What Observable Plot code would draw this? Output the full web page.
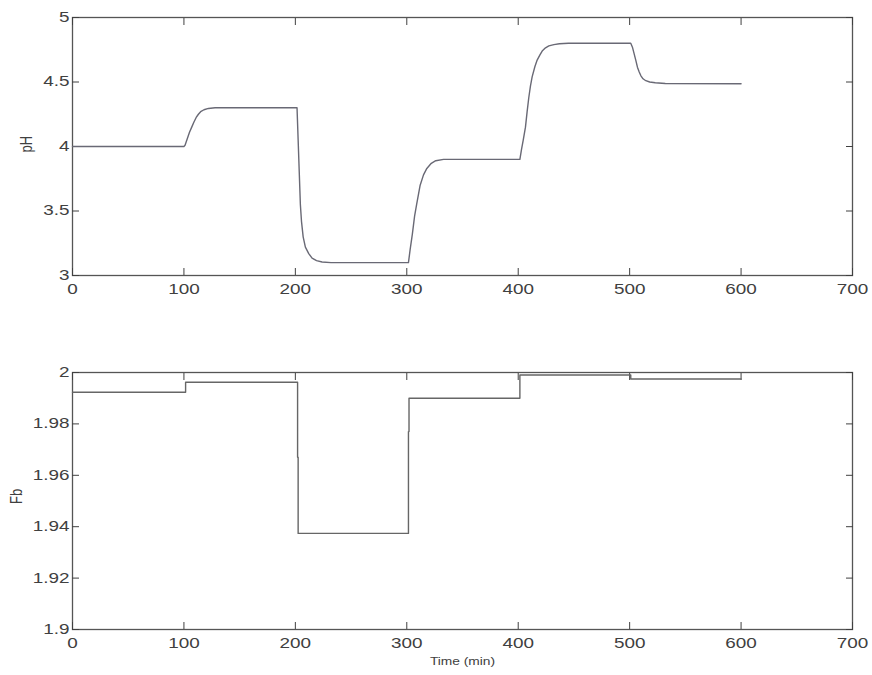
<!DOCTYPE html>
<html>
<head>
<meta charset="utf-8">
<script src="https://cdn.jsdelivr.net/npm/d3@7"></script>
<script src="https://cdn.jsdelivr.net/npm/@observablehq/plot@0.6"></script>
<style>
  body { margin: 0; background: #fff; }
  #chart svg { display: block; }
</style>
</head>
<body>
<div id="chart"></div>
<script>
// pH response to successive set-point changes (time in minutes)
const phTime = [0, 100, 101, 103, 105, 107, 109, 111, 113, 115, 118, 122, 128,
  201.5, 202.5, 203.5, 204.5, 205.5, 207, 209, 212, 215, 219, 224, 232,
  301.5, 303, 305, 307, 309, 312, 315, 318, 322, 326, 333,
  401.5, 403, 404.5, 406.5, 408, 409.5, 411, 412.5, 415, 417, 419.5, 421.5, 424.5, 427.5, 432, 437, 445,
  501, 502.5, 504, 505.5, 507, 508.5, 510, 512, 514.5, 518, 523, 532, 600];
const phValue = [4.0, 4.0, 4.01, 4.06, 4.11, 4.15, 4.19, 4.225, 4.25, 4.27, 4.285, 4.295, 4.3,
  4.3, 4.05, 3.8, 3.55, 3.42, 3.3, 3.22, 3.17, 3.135, 3.115, 3.105, 3.1,
  3.1, 3.2, 3.32, 3.46, 3.56, 3.7, 3.78, 3.83, 3.87, 3.89, 3.9,
  3.9, 3.98, 4.05, 4.15, 4.27, 4.38, 4.47, 4.54, 4.62, 4.67, 4.71, 4.74, 4.765, 4.78, 4.79, 4.797, 4.8,
  4.8, 4.77, 4.72, 4.67, 4.615, 4.58, 4.55, 4.525, 4.51, 4.5, 4.494, 4.488, 4.487];

// Base flow Fb (stepwise controller output)
const fbTime = [0, 101.5, 202, 202.5, 301.5, 302, 401.5, 501, 600];
const fbValue = [1.9923, 1.9962, 1.967, 1.9374, 1.977, 1.990, 1.999, 1.9975, 1.9975];

const timeTicks = [0, 100, 200, 300, 400, 500, 600, 700];
const phTicks = [3, 3.5, 4, 4.5, 5];
const phTickLabels = ["3", "3.5", "4", "4.5", "5"];
const fbTicks = [1.9, 1.92, 1.94, 1.96, 1.98, 2];
const fbTickLabels = ["1.9", "1.92", "1.94", "1.96", "1.98", "2"];

const phRows = phTime.map((t, i) => ({t, v: phValue[i]}));
const fbRows = fbTime.map((t, i) => ({t, v: fbValue[i]}));

const font = "'Liberation Sans', Arial, Helvetica, sans-serif";
const ink = "#404040";
const TICK = -7;

// MATLAB-style box: inward ticks on all four sides, labels left and bottom
function boxAxes(yTicks, yLabels) {
  const none = () => "";
  return [
    Plot.frame({stroke: "#555", strokeWidth: 1.3}),
    Plot.axisX(timeTicks, {anchor: "bottom", tickSize: TICK, tickFormat: none, label: null}),
    Plot.axisX(timeTicks, {anchor: "top", tickSize: TICK, tickFormat: none, label: null}),
    Plot.axisY(yTicks, {anchor: "left", tickSize: TICK, tickFormat: none, label: null}),
    Plot.axisY(yTicks, {anchor: "right", tickSize: TICK, tickFormat: none, label: null}),
    Plot.axisX(timeTicks, {anchor: "bottom", tickSize: 0, tickPadding: 9, label: null}),
    Plot.axisY(yTicks, {anchor: "left", tickSize: 0, tickPadding: 3, label: null,
      tickFormat: (d, i) => yLabels[i]})
  ];
}

const phChart = Plot.plot({
  width: 872, height: 310,
  marginLeft: 72, marginRight: 20, marginTop: 17, marginBottom: 35,
  style: {fontFamily: font, fontSize: "14px", color: ink, background: "#fff"},
  x: {domain: [0, 700]},
  y: {domain: [3, 5]},
  marks: [
    ...boxAxes(phTicks, phTickLabels),
    Plot.line(phRows, {x: "t", y: "v", stroke: "#696975", strokeWidth: 1.4}),
    Plot.text(["pH"], {frameAnchor: "left", dx: -46, dy: 6, rotate: -90, fontSize: 13, fill: ink})
  ]
});

const fbChart = Plot.plot({
  width: 872, height: 365,
  marginLeft: 72, marginRight: 20, marginTop: 62, marginBottom: 46,
  style: {fontFamily: font, fontSize: "14px", color: ink, background: "#fff"},
  x: {domain: [0, 700]},
  y: {domain: [1.9, 2]},
  marks: [
    ...boxAxes(fbTicks, fbTickLabels),
    Plot.line(fbRows, {x: "t", y: "v", curve: "step-after", stroke: "#666", strokeWidth: 1.4}),
    Plot.text(["Fb"], {frameAnchor: "left", dx: -56, dy: 3, rotate: -90, fontSize: 13, fill: ink}),
    Plot.text(["Time (min)"], {frameAnchor: "bottom", dy: 35, fontSize: 11, fill: ink})
  ]
});

// Widen the glyphs horizontally (the figure's text is set wide)
function widen(svg, selector, s) {
  svg.querySelectorAll(selector).forEach(t => {
    const tr = t.getAttribute("transform");
    if (tr) {
      if (/rotate\(/.test(tr)) t.setAttribute("transform", tr.replace(/rotate\(/, `scale(${s},1) rotate(`));
      else t.setAttribute("transform", `${tr} scale(${s},1)`);
    } else {
      const x = +t.getAttribute("x") || 0, y = +t.getAttribute("y") || 0;
      t.removeAttribute("x"); t.removeAttribute("y");
      t.setAttribute("transform", `translate(${x},${y}) scale(${s},1)`);
    }
  });
}
for (const svg of [phChart, fbChart]) {
  widen(svg, 'g[aria-label$="tick label"] text', 1.35);
  widen(svg, 'g[aria-label="text"] text', 1.25);
}

document.getElementById("chart").append(phChart, fbChart);
</script>
</body>
</html>
